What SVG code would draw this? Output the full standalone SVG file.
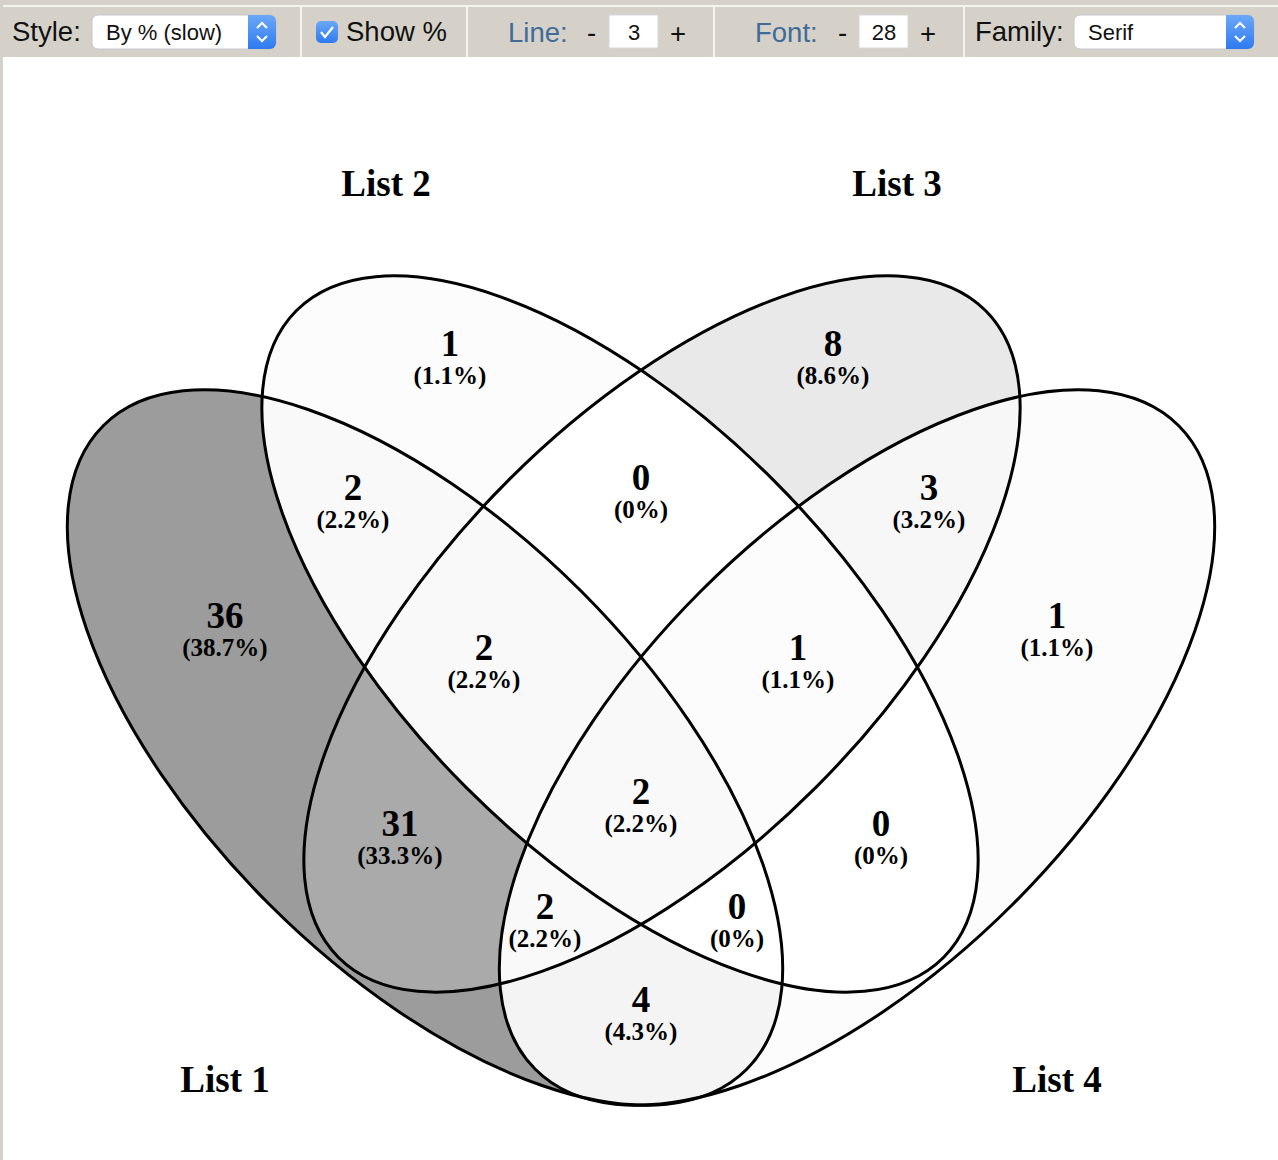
<svg xmlns="http://www.w3.org/2000/svg" xmlns:xlink="http://www.w3.org/1999/xlink" width="1278" height="1160" viewBox="0 0 1278 1160">
<style>
.tb{font-family:"Liberation Sans",Arial,sans-serif;font-size:27.5px;fill:#111}
.tbb{font-family:"Liberation Sans",Arial,sans-serif;font-size:27.5px;fill:#3f6b98}
.sel{font-family:"Liberation Sans",Arial,sans-serif;font-size:22px;fill:#111}
.n{font-family:"Liberation Serif","Times New Roman",serif;font-weight:bold;font-size:37px;text-anchor:middle;fill:#000}
.p{font-family:"Liberation Serif","Times New Roman",serif;font-weight:bold;font-size:25px;text-anchor:middle;fill:#000}
.lab{font-family:"Liberation Serif","Times New Roman",serif;font-weight:bold;font-size:37px;text-anchor:middle;fill:#000}
.outline{fill:none;stroke:#000;stroke-width:3}
</style>
<defs>
<ellipse id="E1" cx="425" cy="747.5" rx="455" ry="221" transform="rotate(45 425 747.5)"/>
<ellipse id="E2" cx="620" cy="634" rx="457.5" ry="217.3" transform="rotate(45 620 634)"/>
<ellipse id="E3" cx="662" cy="634" rx="457.5" ry="217.3" transform="rotate(-45 662 634)"/>
<ellipse id="E4" cx="857" cy="747.5" rx="455" ry="221" transform="rotate(-45 857 747.5)"/>
<clipPath id="c1"><use href="#E1"/></clipPath>
<clipPath id="c2"><use href="#E2"/></clipPath>
<clipPath id="c3"><use href="#E3"/></clipPath>
<clipPath id="c4"><use href="#E4"/></clipPath>
<mask id="n1" maskUnits="userSpaceOnUse" x="0" y="0" width="1278" height="1160"><rect width="1278" height="1160" fill="#fff"/><use href="#E1" fill="#000"/></mask>
<mask id="n2" maskUnits="userSpaceOnUse" x="0" y="0" width="1278" height="1160"><rect width="1278" height="1160" fill="#fff"/><use href="#E2" fill="#000"/></mask>
<mask id="n3" maskUnits="userSpaceOnUse" x="0" y="0" width="1278" height="1160"><rect width="1278" height="1160" fill="#fff"/><use href="#E3" fill="#000"/></mask>
<mask id="n4" maskUnits="userSpaceOnUse" x="0" y="0" width="1278" height="1160"><rect width="1278" height="1160" fill="#fff"/><use href="#E4" fill="#000"/></mask>
<linearGradient id="blue" x1="0" y1="0" x2="0" y2="1"><stop offset="0" stop-color="#6aa8f7"/><stop offset="1" stop-color="#2f7af0"/></linearGradient>
<rect id="full" x="0" y="57" width="1278" height="1103"/>
</defs>

<!-- page / toolbar -->
<rect width="1278" height="1160" fill="#d5d1c9"/>
<rect x="3" y="57" width="1275" height="1103" fill="#fff"/>
<rect x="3" y="5" width="1275" height="2" fill="#f4f3f0"/>
<rect x="300" y="7" width="2" height="50" fill="#f4f3f0"/>
<rect x="466" y="7" width="2" height="50" fill="#f4f3f0"/>
<rect x="713" y="7" width="2" height="50" fill="#f4f3f0"/>
<rect x="963" y="7" width="2" height="50" fill="#f4f3f0"/>

<g id="toolbar">
<text class="tb" x="12" y="41">Style:</text>
<rect x="92" y="15" width="184" height="34" rx="6" fill="#fff" stroke="#c8c8c8"/>
<path d="M248 15 h22 a6 6 0 0 1 6 6 v22 a6 6 0 0 1 -6 6 h-22 z" fill="url(#blue)"/>
<path d="M257 28 l5 -5 l5 5 M257 36 l5 5 l5 -5" fill="none" stroke="#fff" stroke-width="2"/>
<text class="sel" x="106" y="40">By % (slow)</text>
<rect x="316" y="21" width="22" height="22" rx="5" fill="url(#blue)"/>
<path d="M321 32 l4 5 l8 -10" fill="none" stroke="#fff" stroke-width="2.2"/>
<text class="tb" x="346" y="41">Show %</text>
<text class="tbb" x="508" y="42">Line:</text>
<text class="tb" x="587" y="42">-</text>
<rect x="609" y="15" width="49" height="33" fill="#fff" stroke="#d8d8d8"/>
<text class="sel" x="634" y="40" text-anchor="middle">3</text>
<text class="tb" x="670" y="43">+</text>
<text class="tbb" x="755" y="42">Font:</text>
<text class="tb" x="838" y="42">-</text>
<rect x="859" y="15" width="49" height="33" fill="#fff" stroke="#d8d8d8"/>
<text class="sel" x="884" y="40" text-anchor="middle">28</text>
<text class="tb" x="920" y="43">+</text>
<text class="tb" x="975" y="41">Family:</text>
<rect x="1074" y="15" width="180" height="34" rx="6" fill="#fff" stroke="#c8c8c8"/>
<path d="M1226 15 h22 a6 6 0 0 1 6 6 v22 a6 6 0 0 1 -6 6 h-22 z" fill="url(#blue)"/>
<path d="M1235 28 l5 -5 l5 5 M1235 36 l5 5 l5 -5" fill="none" stroke="#fff" stroke-width="2"/>
<text class="sel" x="1088" y="40">Serif</text>
</g>

<!-- region fills -->
<g id="fills">
<g id="r1" clip-path="url(#c1)"><g mask="url(#n2)"><g mask="url(#n3)"><use href="#full" fill="#9c9c9c" mask="url(#n4)"/></g></g></g>
<g id="r2" clip-path="url(#c2)"><g mask="url(#n1)"><g mask="url(#n3)"><use href="#full" fill="#fcfcfc" mask="url(#n4)"/></g></g></g>
<g id="r3" clip-path="url(#c3)"><g mask="url(#n1)"><g mask="url(#n2)"><use href="#full" fill="#e9e9e9" mask="url(#n4)"/></g></g></g>
<g id="r4" clip-path="url(#c4)"><g mask="url(#n1)"><g mask="url(#n2)"><use href="#full" fill="#fcfcfc" mask="url(#n3)"/></g></g></g>
<g id="r12" clip-path="url(#c1)"><g clip-path="url(#c2)"><g mask="url(#n3)"><use href="#full" fill="#f9f9f9" mask="url(#n4)"/></g></g></g>
<g id="r34" clip-path="url(#c3)"><g clip-path="url(#c4)"><g mask="url(#n1)"><use href="#full" fill="#f7f7f7" mask="url(#n2)"/></g></g></g>
<g id="r13" clip-path="url(#c1)"><g clip-path="url(#c3)"><g mask="url(#n2)"><use href="#full" fill="#aaaaaa" mask="url(#n4)"/></g></g></g>
<g id="r14" clip-path="url(#c1)"><g clip-path="url(#c4)"><g mask="url(#n2)"><use href="#full" fill="#f4f4f4" mask="url(#n3)"/></g></g></g>
<g id="r123" clip-path="url(#c1)"><g clip-path="url(#c2)"><g clip-path="url(#c3)"><use href="#full" fill="#f9f9f9" mask="url(#n4)"/></g></g></g>
<g id="r234" clip-path="url(#c2)"><g clip-path="url(#c3)"><g clip-path="url(#c4)"><use href="#full" fill="#fcfcfc" mask="url(#n1)"/></g></g></g>
<g id="r134" clip-path="url(#c1)"><g clip-path="url(#c3)"><g clip-path="url(#c4)"><use href="#full" fill="#f9f9f9" mask="url(#n2)"/></g></g></g>
<g id="r1234" clip-path="url(#c1)"><g clip-path="url(#c2)"><g clip-path="url(#c3)"><g clip-path="url(#c4)"><use href="#full" fill="#f9f9f9"/></g></g></g></g>
</g>

<!-- outlines -->
<g id="list1"><use href="#E1" class="outline"/><text class="lab" x="225" y="1092">List 1</text></g>
<g id="list2"><use href="#E2" class="outline"/><text class="lab" x="386" y="196">List 2</text></g>
<g id="list3"><use href="#E3" class="outline"/><text class="lab" x="897" y="196">List 3</text></g>
<g id="list4"><use href="#E4" class="outline"/><text class="lab" x="1057" y="1092">List 4</text></g>

<!-- counts -->
<g id="labels">
<text class="n" x="450" y="356">1</text><text class="p" x="450" y="384">(1.1%)</text>
<text class="n" x="833" y="356">8</text><text class="p" x="833" y="384">(8.6%)</text>
<text class="n" x="641" y="490">0</text><text class="p" x="641" y="518">(0%)</text>
<text class="n" x="353" y="500">2</text><text class="p" x="353" y="528">(2.2%)</text>
<text class="n" x="929" y="500">3</text><text class="p" x="929" y="528">(3.2%)</text>
<text class="n" x="225" y="628">36</text><text class="p" x="225" y="656">(38.7%)</text>
<text class="n" x="1057" y="628">1</text><text class="p" x="1057" y="656">(1.1%)</text>
<text class="n" x="484" y="660">2</text><text class="p" x="484" y="688">(2.2%)</text>
<text class="n" x="798" y="660">1</text><text class="p" x="798" y="688">(1.1%)</text>
<text class="n" x="641" y="804">2</text><text class="p" x="641" y="832">(2.2%)</text>
<text class="n" x="400" y="836">31</text><text class="p" x="400" y="864">(33.3%)</text>
<text class="n" x="881" y="836">0</text><text class="p" x="881" y="864">(0%)</text>
<text class="n" x="545" y="919">2</text><text class="p" x="545" y="947">(2.2%)</text>
<text class="n" x="737" y="919">0</text><text class="p" x="737" y="947">(0%)</text>
<text class="n" x="641" y="1012">4</text><text class="p" x="641" y="1040">(4.3%)</text>
</g>
</svg>
